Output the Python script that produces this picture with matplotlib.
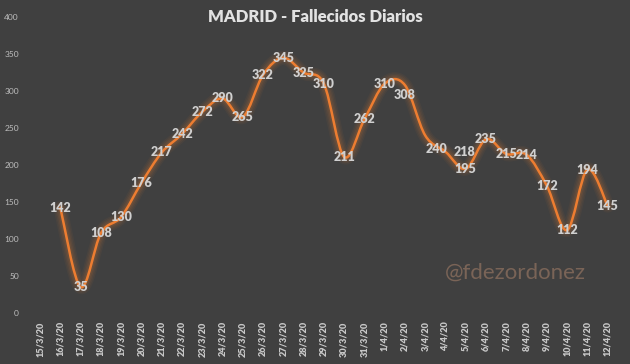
import numpy as np
import matplotlib
matplotlib.use("Agg")
import matplotlib.pyplot as plt
from matplotlib.path import Path
from matplotlib.patches import PathPatch

"""Daily deaths in Madrid, smoothed Excel-style line on a dark background"""

dates = ["15/3/20", "16/3/20", "17/3/20", "18/3/20", "19/3/20", "20/3/20",
         "21/3/20", "22/3/20", "23/3/20", "24/3/20", "25/3/20", "26/3/20",
         "27/3/20", "28/3/20", "29/3/20", "30/3/20", "31/3/20", "1/4/20",
         "2/4/20", "3/4/20", "4/4/20", "5/4/20", "6/4/20", "7/4/20",
         "8/4/20", "9/4/20", "10/4/20", "11/4/20", "12/4/20"]
# no value reported for 15/3/20
deaths = [None, 142, 35, 108, 130, 176, 217, 242, 272, 290, 265, 322, 345,
          325, 310, 211, 262, 310, 308, 240, 218, 195, 235, 215, 214, 172,
          112, 194, 145]

BG = "#404040"
ORANGE = "#ED7D31"
LABEL = "#D0D0D0"

plt.rcParams["font.family"] = ["Lato", "DejaVu Sans"]


def smooth_path(xs, ys):
    """Bezier path through the points (Catmull-Rom control points)"""
    pts = np.column_stack([xs, ys]).astype(float)
    verts = [pts[0]]
    codes = [Path.MOVETO]
    n = len(pts)
    for i in range(n - 1):
        p0 = pts[i - 1] if i > 0 else pts[i]
        p1 = pts[i]
        p2 = pts[i + 1]
        p3 = pts[i + 2] if i + 2 < n else pts[i + 1]
        verts += [p1 + (p2 - p0) / 6, p2 - (p3 - p1) / 6, p2]
        codes += [Path.CURVE4] * 3
    return Path(verts, codes)


fig = plt.figure(figsize=(6.3, 3.64), dpi=100, facecolor=BG)
ax = fig.add_axes([0.0476, 0.140, 0.933, 0.813], facecolor=BG)

idx = [i for i, v in enumerate(deaths) if v is not None]
vals = [deaths[i] for i in idx]
path = smooth_path(idx, vals)

# soft glow, then the line itself
for lw, a in [(10, 0.05), (8, 0.06), (6, 0.08), (4, 0.10)]:
    ax.add_patch(PathPatch(path, facecolor="none", edgecolor=ORANGE,
                           lw=lw, alpha=a, capstyle="round", joinstyle="round"))
ax.add_patch(PathPatch(path, facecolor="none", edgecolor=ORANGE, lw=1.8,
                       capstyle="round", joinstyle="round"))

# a few labels were nudged in the original to avoid the line
nudge = {18: (0, -7), 19: (8, -10), 20: (14, 0)}
for i, v in zip(idx, vals):
    dx, dy = nudge.get(i, (0, 0))
    ax.annotate(str(v), (i, v), xytext=(dx, dy), textcoords="offset points",
                ha="center", va="center", fontsize=9, fontweight="heavy",
                color=LABEL, zorder=5)

ax.set_xlim(-0.5, len(dates) - 0.5)
ax.set_ylim(0, 400)
ax.set_xticks(range(len(dates)))
ax.set_xticklabels(dates, rotation=90, fontsize=6.6, fontweight="heavy",
                   color="#C8C8C8")
ax.set_yticks(range(0, 401, 50))
ax.tick_params(axis="y", labelsize=6, labelcolor="#BFBFBF", length=0, pad=8)
ax.tick_params(axis="x", length=0, pad=6)
for s in ax.spines.values():
    s.set_visible(False)

fig.text(0.5, 0.953, "MADRID - Fallecidos Diarios", ha="center", va="center",
         fontsize=12, fontweight="heavy", color="#E2E2E2")
fig.text(0.818, 0.25, "@fdezordonez", ha="center", va="center",
         fontsize=16, color="#7A6457")

fig.savefig("out.png", dpi=100, facecolor=BG)
